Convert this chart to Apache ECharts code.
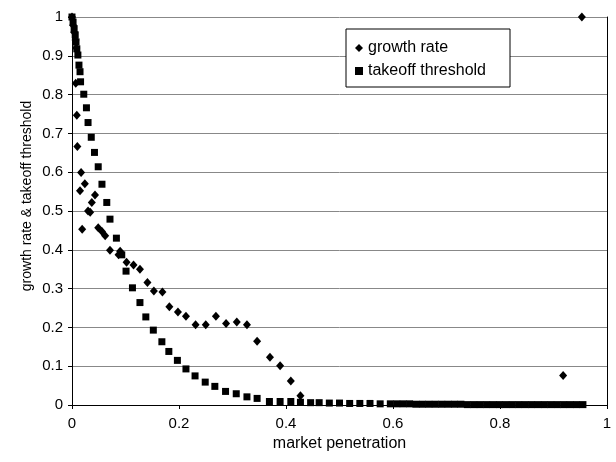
<!DOCTYPE html>
<html>
<head>
<meta charset="utf-8">
<style>
html,body{margin:0;padding:0;background:#fff;}
#chart{width:616px;height:462px;}
</style>
<script src="https://cdn.jsdelivr.net/npm/echarts@6/dist/echarts.min.js"></script>
</head>
<body>
<div id="chart"></div>
<script>
// growth rate (diamonds)
var growthX = [0, 0.002, 0.004, 0.0065, 0.008, 0.007, 0.009, 0.010, 0.017, 0.024, 0.015, 0.043, 0.037, 0.030, 0.034, 0.019, 0.049, 0.056, 0.062, 0.071, 0.090, 0.087, 0.102, 0.115, 0.127, 0.141, 0.153, 0.169, 0.182, 0.198, 0.213, 0.231, 0.250, 0.269, 0.288, 0.308, 0.327, 0.346, 0.370, 0.389, 0.409, 0.427, 0.918, 0.953];
var growthY = [1.0, 0.979, 0.961, 0.941, 0.920, 0.829, 0.747, 0.666, 0.599, 0.570, 0.552, 0.541, 0.522, 0.500, 0.497, 0.453, 0.457, 0.447, 0.436, 0.399, 0.396, 0.387, 0.368, 0.361, 0.350, 0.316, 0.294, 0.291, 0.253, 0.240, 0.229, 0.207, 0.207, 0.229, 0.210, 0.214, 0.207, 0.164, 0.123, 0.101, 0.062, 0.024, 0.076, 1.0];
// takeoff threshold (squares)
var thresholdX = [0, 0.002, 0.004, 0.006, 0.0075, 0.009, 0.011, 0.013, 0.015, 0.016, 0.022, 0.027, 0.030, 0.036, 0.042, 0.049, 0.056, 0.065, 0.071, 0.083, 0.093, 0.101, 0.113, 0.127, 0.138, 0.152, 0.168, 0.181, 0.197, 0.213, 0.230, 0.249, 0.267, 0.287, 0.307, 0.327, 0.346, 0.369, 0.389, 0.409, 0.427, 0.446, 0.462, 0.481, 0.500, 0.519, 0.538, 0.557, 0.576, 0.595, 0.607, 0.619, 0.631, 0.643, 0.655, 0.667, 0.679, 0.691, 0.703, 0.715, 0.727, 0.739, 0.751, 0.763, 0.775, 0.787, 0.799, 0.811, 0.823, 0.835, 0.847, 0.859, 0.871, 0.883, 0.895, 0.907, 0.919, 0.931, 0.943, 0.955];
var thresholdY = [1.0, 0.987, 0.970, 0.954, 0.936, 0.918, 0.902, 0.876, 0.859, 0.833, 0.801, 0.766, 0.728, 0.690, 0.651, 0.614, 0.569, 0.522, 0.479, 0.430, 0.387, 0.345, 0.302, 0.264, 0.227, 0.193, 0.163, 0.138, 0.115, 0.093, 0.075, 0.059, 0.048, 0.035, 0.029, 0.021, 0.017, 0.009, 0.009, 0.009, 0.007, 0.006, 0.006, 0.005, 0.005, 0.004, 0.004, 0.004, 0.003, 0.003, 0.003, 0.003, 0.003, 0.002, 0.002, 0.002, 0.002, 0.002, 0.002, 0.002, 0.002, 0.001, 0.001, 0.001, 0.001, 0.001, 0.001, 0.001, 0.001, 0.001, 0.001, 0.001, 0.001, 0.001, 0.001, 0.001, 0.001, 0.001, 0.001, 0.001];
var xTickStep = 0.2;
var yTickStep = 0.1;

function zip(xs, ys) {
  var out = [];
  for (var i = 0; i < xs.length; i++) out.push([xs[i], ys[i]]);
  return out;
}

var FONT = 'Liberation Sans, Arial, Helvetica, sans-serif';
var chart = echarts.init(document.getElementById('chart'), null, {renderer: 'canvas'});
chart.setOption({
  animation: false,
  backgroundColor: '#fff',
  textStyle: {fontFamily: FONT},
  grid: {left: 72, right: 9, top: 17, bottom: 57, containLabel: false},
  legend: {
    orient: 'vertical',
    left: 346,
    top: 29,
    padding: [11, 24, 8, 9],
    itemGap: 7,
    itemWidth: 8,
    itemHeight: 8,
    backgroundColor: '#fff',
    borderColor: '#000',
    borderWidth: 1,
    textStyle: {fontFamily: FONT, fontSize: 16, color: '#000'},
    data: [
      {name: 'growth rate', icon: 'diamond'},
      {name: 'takeoff threshold', icon: 'rect'}
    ]
  },
  xAxis: {
    type: 'value',
    min: 0, max: 1, interval: xTickStep,
    name: 'market penetration',
    nameLocation: 'middle',
    nameGap: 28,
    nameTextStyle: {fontFamily: FONT, fontSize: 16, color: '#000'},
    axisLine: {show: true, onZero: false, lineStyle: {color: '#000', width: 1}},
    axisTick: {show: true, inside: false, length: 4, lineStyle: {color: '#000'}},
    axisLabel: {fontFamily: FONT, fontSize: 15, color: '#000', margin: 11},
    splitLine: {show: false}
  },
  yAxis: [{
    type: 'value',
    min: 0, max: 1, interval: yTickStep,
    axisLine: {show: true, onZero: false, lineStyle: {color: '#000', width: 1}},
    axisTick: {show: true, inside: false, length: 4, lineStyle: {color: '#000'}},
    axisLabel: {fontFamily: FONT, fontSize: 15, color: '#000', margin: 9},
    splitLine: {show: true, lineStyle: {color: '#888', width: 1}}
  }, {
    type: 'value',
    position: 'right',
    min: 0, max: 1, interval: yTickStep,
    axisLine: {show: true, onZero: false, lineStyle: {color: '#000', width: 1}},
    axisTick: {show: false},
    axisLabel: {show: false},
    splitLine: {show: false}
  }],
  graphic: [{
    type: 'text',
    x: 27,
    y: 196,
    rotation: Math.PI / 2,
    style: {
      text: 'growth rate & takeoff threshold',
      fill: '#000',
      font: '14px ' + FONT,
      textAlign: 'center',
      textVerticalAlign: 'middle'
    }
  }],
  series: [{
    name: 'growth rate',
    type: 'scatter',
    symbol: 'diamond',
    symbolSize: [8, 9],
    itemStyle: {color: '#000', opacity: 1},
    z: 3,
    data: zip(growthX, growthY)
  }, {
    name: 'takeoff threshold',
    type: 'scatter',
    symbol: 'rect',
    symbolSize: 7,
    itemStyle: {color: '#000', opacity: 1},
    z: 2,
    data: zip(thresholdX, thresholdY)
  }]
});
</script>
</body>
</html>
